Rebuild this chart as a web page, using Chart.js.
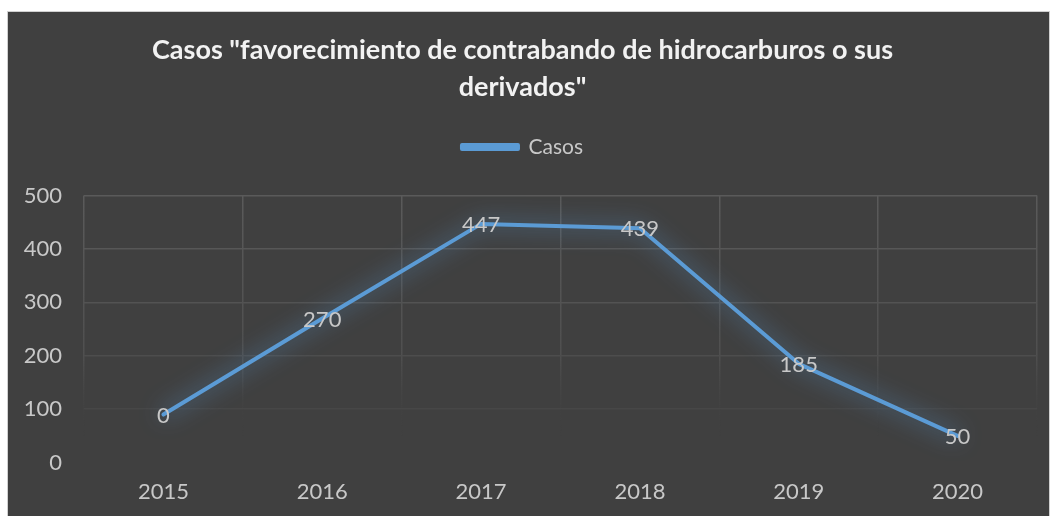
<!DOCTYPE html>
<html>
<head>
<meta charset="utf-8">
<script src="https://cdn.jsdelivr.net/npm/chart.js@4"></script>
<style>
    body { margin: 0; background: #ffffff; overflow: hidden; }
    #box {
        position: absolute; left: 7px; top: 11px;
        width: 1041px; height: 510px;
        background: #404040;
        border: 1px solid #d0d0d0; border-bottom: none;
    }
</style>
</head>
<body>
<div id="box"><canvas id="chart" width="1041" height="510"></canvas></div>
<script>
// --- DATA ---
const years = ['2015', '2016', '2017', '2018', '2019', '2020'];
const casos = [90, 270, 447, 439, 185, 50];
const valueLabels = ['0', '270', '447', '439', '185', '50'];
const yTicks = [0, 100, 200, 300, 400, 500];

const LINE_BLUE = '#5b9bd5';
const TEXT_GREY = '#c8c8c8';
const FONT = 'Lato, "Open Sans", sans-serif';

// soft blue glow under the line
const glowPlugin = {
    id: 'glow',
    beforeDatasetDraw(chart) {
        const ctx = chart.ctx;
        ctx.save();
        ctx.shadowColor = 'rgba(91, 155, 213, 0.9)';
        ctx.shadowBlur = 22;
    },
    afterDatasetDraw(chart) {
        chart.ctx.restore();
    }
};

// value labels centered on each point
const labelPlugin = {
    id: 'valueLabels',
    afterDatasetsDraw(chart) {
        const ctx = chart.ctx;
        const meta = chart.getDatasetMeta(0);
        ctx.save();
        ctx.font = '22px ' + FONT;
        ctx.fillStyle = TEXT_GREY;
        ctx.textAlign = 'center';
        ctx.textBaseline = 'middle';
        meta.data.forEach((pt, i) => {
            ctx.fillText(valueLabels[i], pt.x, pt.y + 1);
        });
        ctx.restore();
    }
};

// extra room between legend and plot
const legendGap = {
    id: 'legendGap',
    beforeInit(chart) {
        const fit = chart.legend.fit;
        chart.legend.fit = function () {
            fit.bind(chart.legend)();
            this.height += 28;
        };
    }
};

// gridlines fade out towards the bottom of the plot
function yGridColor(c) {
    const shades = { 500: '#5a5a5a', 400: '#575757', 300: '#535353', 200: '#4d4d4d', 100: '#474747', 0: 'rgba(0,0,0,0)' };
    return shades[c.tick ? c.tick.value : 0] || '#505050';
}
function xGridColor(c) {
    const area = c.chart.chartArea;
    if (!area) return '#5a5a5a';
    const g = c.chart.ctx.createLinearGradient(0, area.top, 0, area.bottom);
    g.addColorStop(0, '#5a5a5a');
    g.addColorStop(0.6, '#4f4f4f');
    g.addColorStop(0.9, 'rgba(64,64,64,0)');
    return g;
}

const ctx = document.getElementById('chart').getContext('2d');
new Chart(ctx, {
    type: 'line',
    data: {
        labels: years,
        datasets: [{
            label: 'Casos',
            data: casos,
            borderColor: LINE_BLUE,
            backgroundColor: LINE_BLUE,
            borderWidth: 4,
            borderJoinStyle: 'round',
            borderCapStyle: 'round',
            pointRadius: 0,
            tension: 0
        }]
    },
    options: {
        responsive: false,
        animation: false,
        layout: { padding: { top: 19, left: 0, right: 12, bottom: 1 } },
        plugins: {
            title: {
                display: true,
                text: ['Casos "favorecimiento de contrabando de hidrocarburos o sus', 'derivados"'],
                color: '#f2f2f2',
                font: { family: FONT, size: 27, weight: 'bold', lineHeight: 1.4 },
                padding: { top: 0, bottom: 20 }
            },
            legend: {
                display: true,
                labels: {
                    color: TEXT_GREY,
                    font: { family: FONT, size: 21 },
                    boxWidth: 56,
                    boxHeight: 4,
                    padding: 10
                }
            },
            tooltip: { enabled: false }
        },
        scales: {
            x: {
                offset: true,
                grid: { offset: true, color: xGridColor, lineWidth: 1.5, drawTicks: false },
                border: { display: false },
                ticks: { color: TEXT_GREY, font: { family: FONT, size: 22 }, padding: 16 }
            },
            y: {
                min: 0,
                max: 500,
                afterBuildTicks(axis) { axis.ticks = yTicks.map(v => ({ value: v })); },
                afterFit(axis) { axis.width = 76; },
                grid: { color: yGridColor, lineWidth: 1.5, drawTicks: false },
                border: { display: false },
                ticks: { color: TEXT_GREY, font: { family: FONT, size: 22 }, padding: 22 }
            }
        }
    },
    plugins: [glowPlugin, labelPlugin, legendGap]
});
</script>
</body>
</html>
